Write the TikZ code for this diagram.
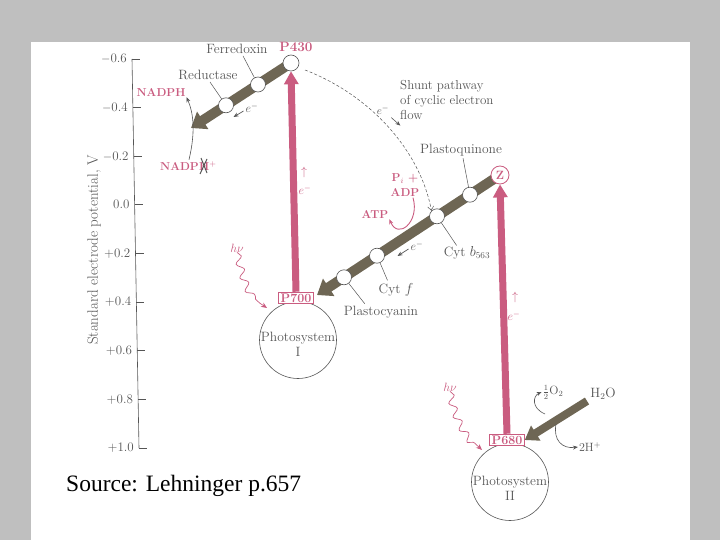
\documentclass[tikz,border=0pt]{standalone}
\usepackage{fontspec}
\newfontfamily\srcfont{Liberation Serif}
\usetikzlibrary{arrows.meta,decorations.pathmorphing,calc}
\definecolor{pk}{RGB}{202,92,128}
\definecolor{barc}{RGB}{110,102,84}
\definecolor{txt}{RGB}{85,85,85}
\definecolor{bgg}{RGB}{191,191,191}
\pgfdeclarelayer{bg}
\pgfsetlayers{bg,main}
\begin{document}
\begin{tikzpicture}[x=1pt,y=-1pt,
  lbl/.style={text=txt,font=\fontsize{13.5}{16}\selectfont,inner sep=1pt},
  plbl/.style={text=pk,font=\fontsize{11.5}{15}\selectfont\bfseries,inner sep=1pt},
  ticklbl/.style={text=txt,font=\fontsize{13}{15}\selectfont,anchor=east,inner sep=1pt},
  carrier/.style={circle,draw=txt,fill=white,line width=0.6pt,minimum size=15pt,inner sep=0pt},
  gbar/.style={draw=barc,line width=10pt,-{Triangle[length=14pt,width=20pt]}},
  pbar/.style={draw=pk,line width=7pt,-{Triangle[length=13pt,width=14pt]}},
  leader/.style={draw=txt,line width=0.5pt},
  thinarr/.style={line width=0.7pt,-{Stealth[length=5pt,width=4pt]}},
  pbox/.style={draw=pk,fill=white,text=pk,line width=0.8pt,inner xsep=2pt,inner ysep=1.5pt,font=\fontsize{12.5}{14}\selectfont\bfseries},
  psys/.style={circle,draw=txt,line width=0.6pt,minimum size=77pt,inner sep=0pt},
  wavy/.style={draw=pk,line width=0.7pt,decorate,decoration={snake,amplitude=3.5pt,segment length=14pt,post length=9pt},-{Stealth[length=6pt,width=5pt]}}
]
\useasboundingbox (0,0) rectangle (720,540);
\begin{pgfonlayer}{bg}
\fill[bgg] (0,0) rectangle (720,540);
\fill[white] (31,42) rectangle (690,540);
\end{pgfonlayer}

% axis
\coordinate (atop) at (132,59);
\coordinate (abot) at (139,448);
\draw[txt,line width=0.6pt] (atop) -- (abot);
\foreach \v/\lab in {0/{$-$0.6},1/{$-$0.4},2/{$-$0.2},3/{0.0},4/{+0.2},5/{+0.4},6/{+0.6},7/{+0.8},8/{+1.0}}{
  \pgfmathsetmacro\yy{59+48.6*\v}
  \pgfmathsetmacro\xx{132+7*(\yy-59)/389}
  \draw[txt,line width=0.6pt] (\xx,\yy) -- ++(8,0);
  \node[ticklbl] (t\v) at (\xx-4,\yy) {\lab};
}
\node[lbl,rotate=90,font=\fontsize{15}{17}\selectfont] (axl) at (94,250) {Standard electrode potential, V};

% upper chain (PS I side)
\node[carrier,minimum size=16pt] (p430) at (291,63) {};
\node[carrier] (fd) at (258,84.5) {};
\node[carrier] (rd) at (226,105.3) {};
\coordinate (nadtip) at (191,128);
\begin{pgfonlayer}{bg}
\draw[gbar] (p430.center) -- (nadtip);
\end{pgfonlayer}
\node[plbl,font=\fontsize{13.5}{15}\selectfont\bfseries] (p430l) at (296,47) {P430};
\node[lbl] (fdl) at (237,49) {Ferredoxin};
\node[lbl] (rdl) at (208,75) {Reductase};
\draw[leader] (fdl.south) ++(6,1) -- (fd);
\draw[leader] (rdl.south) ++(2,1) -- (rd);
\node[text=txt,font=\fontsize{12}{14}\selectfont,inner sep=0pt] (eup) at (252,108) {$e^-$};
\draw[txt,thinarr] (eup.west) ++(-2,3) -- ++(-10,6);

\node[plbl] (nadph) at (161,92) {NADPH};
\node[plbl,anchor=east,inner xsep=0pt] (nadp) at (199,166) {NADP};
\node[plbl,anchor=west,inner xsep=0pt] (nadph2) at (nadp.east) {H$^+$};
\draw[txt,line width=1pt] ([xshift=1pt,yshift=-8pt]nadph2.west) -- ([xshift=8pt,yshift=7pt]nadph2.west);
\draw[txt,line width=1pt] ([xshift=8pt,yshift=-7pt]nadph2.west) -- ([xshift=2pt,yshift=8pt]nadph2.west);
\draw[txt,thinarr,line width=0.6pt] (nadp.north east) ++(-10,-1) .. controls (196,130) and (193,112) .. (nadph.south east);

% PS I
\node[psys] (ps1) at (298,340) {};
\node[lbl,align=center] (ps1l) at (298,344) {Photosystem\\[-1pt]I};
\node[pbox] (p700) at (296,298) {P700};
\draw[pbar] (p700.north) -- (p430.south);
\node[text=pk,inner sep=0pt,font=\fontsize{12}{14}\selectfont] (ua1) at (304,173) {$\uparrow$};
\node[text=pk,font=\fontsize{12}{14}\selectfont,inner sep=0pt] (ue1) at (305,190) {$e^-$};
\node[text=pk,font=\fontsize{13}{15}\selectfont,inner sep=0pt] (hv1) at (237,248) {$h\nu$};
\draw[wavy] (hv1.south) .. controls (244,285) and (252,300) .. (267,308);

% lower chain (PS II side)
\node[circle,draw=pk,fill=white,line width=0.8pt,minimum size=18pt,inner sep=0pt,text=pk,font=\fontsize{12}{14}\selectfont\bfseries] (z) at (500,175) {Z};
\node[carrier] (pq) at (470,194.7) {};
\node[carrier] (cytb) at (437,216.3) {};
\node[carrier] (cytf) at (377,255.7) {};
\node[carrier] (pc) at (344,277.3) {};
\coordinate (p7tip) at (317,295);
\begin{pgfonlayer}{bg}
\draw[gbar] (z.center) -- (p7tip);
\end{pgfonlayer}
\node[lbl] (pql) at (461,150) {Plastoquinone};
\node[lbl] (cytbl) at (467,253) {Cyt $b_{563}$};
\node[lbl] (cytfl) at (396,290) {Cyt $f$};
\node[lbl] (pcl) at (381,312) {Plastocyanin};
\draw[leader] (pql.south) ++(2,1) -- (pq);
\draw[leader] (cytb) -- ($(cytbl.north west)+(14,0)$);
\draw[leader] (cytf) -- ($(cytfl.north west)+(10,-2)$);
\draw[leader] (pc) -- ($(pcl.north west)+(22,-1)$);
\node[text=txt,font=\fontsize{12}{14}\selectfont,inner sep=0pt] (elo) at (417,246) {$e^-$};
\draw[txt,thinarr] (elo.west) ++(-2,3) -- ++(-11,7);

\node[plbl,align=center,font=\fontsize{11.5}{15}\selectfont\bfseries] (piadp) at (405,185) {P$_i$ +\\ADP};
\node[plbl] (atp) at (375,214) {ATP};
\draw[pk,thinarr,line width=0.9pt] (piadp.south) ++(8,0) .. controls (420,222) and (398,240) .. (atp.south east);

% shunt pathway
\node[lbl,align=left,anchor=north west,font=\fontsize{13}{15}\selectfont] (shunt) at (399,79) {Shunt pathway\\of cyclic electron\\flow};
\coordinate (dstart) at (305,70);
\draw[txt,densely dashed,line width=0.5pt,-{Straight Barb[length=4pt,width=6pt]}] (dstart) .. controls (370,95) and (420,150) .. (cytb.north west);
\node[text=txt,font=\fontsize{11}{13}\selectfont,inner sep=0pt] (ed) at (383,110) {$e^-$};
\draw[txt,thinarr,line width=0.6pt] (ed.south east) ++(2,3) -- ++(9,8);

% PS II
\node[psys] (ps2) at (510,482) {};
\node[lbl,align=center] (ps2l) at (510,488) {Photosystem\\[-1pt]II};
\node[pbox] (p680) at (507,440) {P680};
\draw[pbar] (p680.north) -- (z.south);
\node[text=pk,inner sep=0pt,font=\fontsize{12}{14}\selectfont] (ua2) at (515,297) {$\uparrow$};
\node[text=pk,font=\fontsize{12}{14}\selectfont,inner sep=0pt] (ue2) at (514,316) {$e^-$};
\node[text=pk,font=\fontsize{13}{15}\selectfont,inner sep=0pt] (hv2) at (450,387) {$h\nu$};
\draw[wavy] (hv2.south) .. controls (455,420) and (468,438) .. (482,450);

\node[lbl] (h2o) at (603,394) {H$_2$O};
\coordinate (h2otail) at (587,401);
\draw[gbar,line width=8pt,-{Triangle[length=13pt,width=17pt]}] (h2otail) -- (p680.east);
\node[lbl,font=\fontsize{12}{14}\selectfont] (o2) at (553,392) {$\frac{1}{2}$O$_2$};
\node[lbl,font=\fontsize{12}{14}\selectfont] (hplus) at (590,447) {2H$^+$};
\draw[txt,thinarr,line width=0.6pt] (545,414) .. controls (531,408) and (533,396) .. (o2.west);
\draw[txt,thinarr,line width=0.6pt] (556,424) .. controls (553,440) and (562,449) .. (hplus.west);

% source
\node[font=\srcfont\fontsize{23.5}{26}\selectfont,anchor=west,inner sep=0pt] (src) at (66,486) {Source: Lehninger p.657};
\end{tikzpicture}
\end{document}
